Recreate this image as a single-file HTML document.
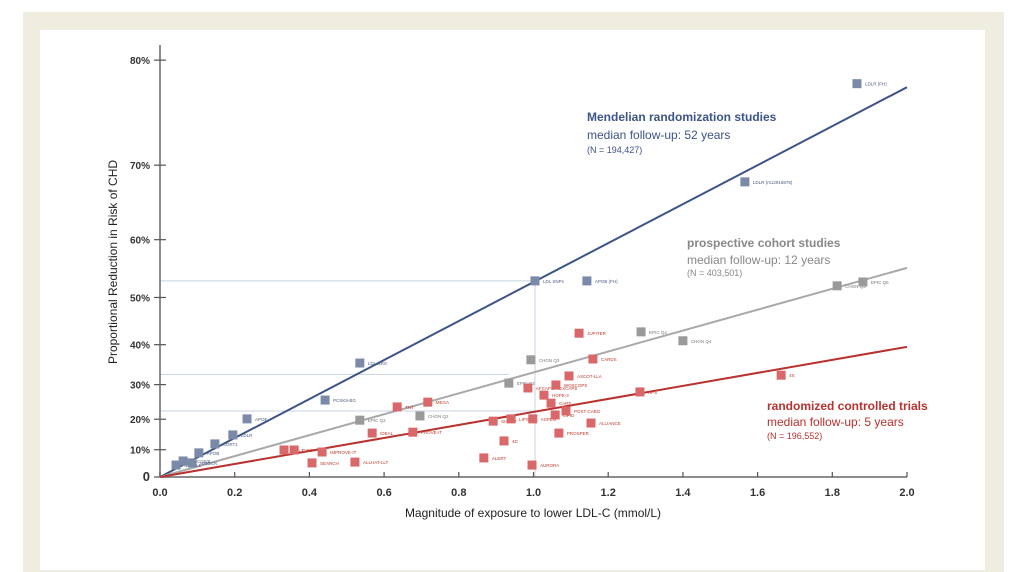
<!DOCTYPE html>
<html><head><meta charset="utf-8"><style>
html,body{margin:0;padding:0;background:#fff;}
body{width:1024px;height:558px;overflow:hidden;position:relative;font-family:"Liberation Sans",sans-serif;}
#frame{position:absolute;left:23px;top:12px;width:981px;height:560px;background:#efede0;}
#panel{position:absolute;left:40px;top:30px;width:945px;height:540px;background:#fff;}
svg{position:absolute;left:0;top:0;}
</style></head><body>
<div id="frame"></div>
<div id="panel"></div>
<svg id="chart" width="1024" height="558"></svg>
<script>
const xTicks=[0.0,0.2,0.4,0.6,0.8,1.0,1.2,1.4,1.6,1.8,2.0];
const yTicks=[0,0.1,0.2,0.3,0.4,0.5,0.6,0.7,0.8];
const yTickLabels=["0","10%","20%","30%","40%","50%","60%","70%","80%"];
const lineEnds=[0.778,0.554,0.395]; // reduction at x=2.0 for MR, cohort, RCT
const mrNames=["NPC1L1","ABCG5/8","HMGCR","APOB","SORT1","LDLR","APOE","PCSK9-BG","LDL GRS","LDL SNPs","APOB (FH)","LDLR (rs12916878)","LDLR (FH)"];
const mrX=[0.043,0.062,0.086,0.104,0.147,0.195,0.233,0.442,0.535,1.004,1.143,1.566,1.866];
const mrY=[0.045,0.060,0.053,0.089,0.120,0.150,0.201,0.257,0.356,0.531,0.531,0.680,0.781];
const coNames=["EPIC Q2","CHGN Q2","EPIC Q3","CHGN Q3","EPIC Q4","CHGN Q4","CHGN Q5","EPIC Q5"];
const coX=[0.535,0.696,0.934,0.993,1.288,1.400,1.813,1.882];
const coY=[0.197,0.210,0.304,0.364,0.429,0.409,0.522,0.529];
const rcNames=["A to Z","GISS-P","SEARCH","IMPROVE-IT","ALLHAT-LLT","IDEAL","TNT","MEGA","PROVE-IT","SHARP","LIPS","4D","ALERT","AFCAPS/ TEXCAPS","AURORA","ASPEN","HOPE-3","CARE","LIPID","POST-CABG","PROSPER","WOSCOPS","ASCOT-LLA","ALLIANCE","JUPITER","CARDS","HPS","4S"];
const rcX=[0.332,0.359,0.407,0.434,0.522,0.568,0.635,0.717,0.677,0.892,0.940,0.921,0.867,0.985,0.996,0.998,1.028,1.047,1.058,1.087,1.068,1.060,1.095,1.154,1.122,1.159,1.285,1.663];
const rcY=[0.099,0.099,0.053,0.092,0.056,0.156,0.237,0.251,0.159,0.194,0.201,0.130,0.071,0.291,0.045,0.201,0.271,0.248,0.213,0.225,0.156,0.299,0.323,0.188,0.426,0.366,0.280,0.325];

const svg=document.getElementById('chart');
const NS='http://www.w3.org/2000/svg';
const X0=160,XW=373.5,Y0=477,YS=259;
const sx=v=>X0+v*XW;
const sy=r=>Y0+YS*Math.log(1-r);
function mk(t,a,txt){const e=document.createElementNS(NS,t);for(const k in a)e.setAttribute(k,a[k]);if(txt!=null)e.textContent=txt;svg.appendChild(e);return e;}

// guide lines
let g;
g=mk('line',{x1:X0,y1:sy(0.531),x2:sx(1.004),y2:sy(0.531),stroke:'#c8d3e3','stroke-width':1});


g=mk('line',{x1:sx(1.004),y1:sy(0.531),x2:sx(1.004),y2:Y0,stroke:'#c8d3e3','stroke-width':1});


g=mk('line',{x1:X0,y1:sy(0.327),x2:sx(0.934),y2:sy(0.327),stroke:'#c8d3e3','stroke-width':1});


g=mk('line',{x1:X0,y1:sy(0.225),x2:sx(1.004),y2:sy(0.225),stroke:'#c8d3e3','stroke-width':1});



// axes
g=mk('line',{x1:X0,y1:45,x2:X0,y2:Y0,stroke:'#666','stroke-width':1.5});


g=mk('line',{x1:X0,y1:Y0,x2:sx(2.0),y2:Y0,stroke:'#666','stroke-width':1.5});


yTicks.forEach((v,i)=>{
  const y=sy(v);
  const t=mk('line',{x1:X0-6,y1:y,x2:X0+6,y2:y,stroke:'#555','stroke-width':1.2});
  
  
  const l=mk('text',{x:X0-10,y:y+4,'text-anchor':'end','font-size':i==0?13:10,'font-weight':'bold',fill:'#333'},yTickLabels[i]);
  
  
});
xTicks.forEach(v=>{
  const x=sx(v);
  const t=mk('line',{x1:x,y1:Y0-5,x2:x,y2:Y0,stroke:'#555','stroke-width':1.2});
  
  
  const l=mk('text',{x:x,y:Y0+19,'text-anchor':'middle','font-size':11,'font-weight':'bold',fill:'#333'},v.toFixed(1));
  
  
});
g=mk('text',{x:533,y:517,'text-anchor':'middle','font-size':12,fill:'#222'},'Magnitude of exposure to lower LDL-C (mmol/L)');


g=mk('text',{x:117,y:262,'text-anchor':'middle','font-size':12,fill:'#222',transform:'rotate(-90 117 262)'},'Proportional Reduction in Risk of CHD');



// regression lines
const lineCols=['#3c5488','#a9a9a9','#b8322f'];
const lineNames=['mr-regression-line','cohort-regression-line','rct-regression-line'];
lineEnds.forEach((r,i)=>{
  const l=mk('line',{x1:X0,y1:Y0,x2:sx(2.0),y2:sy(r),stroke:lineCols[i],'stroke-width':2});
  
  
});

function series(names,xs,ys,fill,lab,nm){
  names.forEach((n,i)=>{
    const x=sx(xs[i]),y=sy(ys[i]);
    const r=mk('rect',{x:x-4.5,y:y-4.5,width:9,height:9,fill:fill});
    
    
    const t=mk('text',{x:x+8,y:y+2,'font-size':4.5,fill:lab},n);
    
    
  });
}
series(coNames,coX,coY,'#9a9a9a','#777','cohort');
series(rcNames,rcX,rcY,'#d9686a','#c0392b','rct');
series(mrNames,mrX,mrY,'#7a8aa8','#4a5a80','mr');

// annotations
function txt(x,y,s,size,col,w,nm){const t=mk('text',{x:x,y:y,'font-size':size,fill:col,'font-weight':w||'normal'},s);}
txt(587,121,'Mendelian randomization studies',12,'#3c5488','bold','mr-title');
txt(587,139,'median follow-up: 52 years',12,'#3c5488','normal','mr-followup');
txt(587,153,'(N = 194,427)',9,'#3c5488','normal','mr-n');
txt(687,247,'prospective cohort studies',12,'#888','bold','cohort-title');
txt(687,264,'median follow-up: 12 years',12,'#888','normal','cohort-followup');
txt(687,276,'(N = 403,501)',9,'#888','normal','cohort-n');
txt(767,410,'randomized controlled trials',12,'#b8322f','bold','rct-title');
txt(767,426,'median follow-up: 5 years',12,'#b8322f','normal','rct-followup');
txt(767,439,'(N = 196,552)',9,'#b8322f','normal','rct-n');
</script>
</body></html>
